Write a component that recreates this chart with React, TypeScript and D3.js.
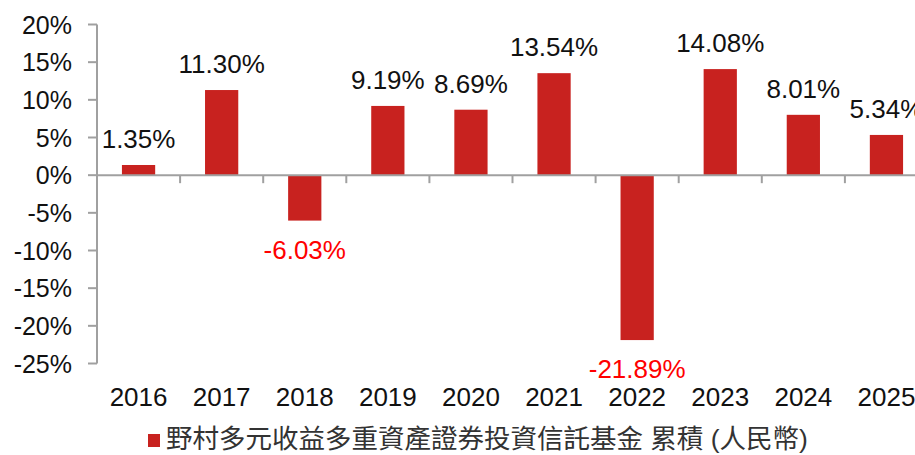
import React from "react";
import * as d3 from "d3";

const categories = ["2016", "2017", "2018", "2019", "2020", "2021", "2022", "2023", "2024", "2025"];
const values = [1.35, 11.3, -6.03, 9.19, 8.69, 13.54, -21.89, 14.08, 8.01, 5.34];
const yTicks = [20, 15, 10, 5, 0, -5, -10, -15, -20, -25];
const legendLabel = "野村多元收益多重資產證券投資信託基金 累積 (人民幣)";

const W = 915;
const H = 455;
const FONT = "'Liberation Sans', Arial, 'Noto Sans CJK TC', sans-serif";
const BAR = "#C8221F";
const AXIS = "#A0A0A0";

export default function App() {
  const x = d3.scaleBand<string>().domain(categories).range([97, 928]).paddingInner(0.6).paddingOuter(0.3);
  const step = x.step();
  const y = d3.scaleLinear().domain([-25, 20]).range([363.5, 24.5]);
  const y0 = y(0);

  return (
    <svg width={W} height={H} style={{ position: "absolute", left: 0, top: 0, fontFamily: FONT }}>
      <rect x={0} y={0} width={W} height={H} fill="#fff" />
      {/* y axis */}
      <line x1={97} x2={97} y1={y(20)} y2={y(-25)} stroke={AXIS} strokeWidth={2} />
      {yTicks.map((t) => (
        <g key={t}>
          <line x1={88} x2={97} y1={y(t)} y2={y(t)} stroke={AXIS} strokeWidth={2} />
          <text x={72} y={y(t)} dy="0.36em" textAnchor="end" fontSize={25} fill="#111">
            {t}%
          </text>
        </g>
      ))}
      {/* bars */}
      {categories.map((c, i) => {
        const v = values[i];
        const top = v >= 0 ? y(v) : y0;
        const h = Math.abs(y(v) - y0);
        return (
          <rect key={c} x={x(c)} y={top} width={x.bandwidth()} height={h} fill={BAR} />
        );
      })}
      {/* x axis */}
      <line x1={97} x2={W} y1={y0} y2={y0} stroke={AXIS} strokeWidth={2} />
      {categories.map((c, i) => (
        <line key={c} x1={97 + step * (i + 1)} x2={97 + step * (i + 1)} y1={y0} y2={y0 + 8} stroke={AXIS} strokeWidth={2} />
      ))}
      {/* data labels */}
      {categories.map((c, i) => {
        const v = values[i];
        const cx = (x(c) as number) + x.bandwidth() / 2;
        const ly = v >= 0 ? y(v) - 17 : y(v) + 38;
        return (
          <text key={c} x={cx} y={ly} textAnchor="middle" fontSize={26} fill={v >= 0 ? "#111" : "#FF0000"}>
            {v.toFixed(2)}%
          </text>
        );
      })}
      {/* category labels */}
      {categories.map((c) => (
        <text key={c} x={(x(c) as number) + x.bandwidth() / 2} y={406} textAnchor="middle" fontSize={26} fill="#111">
          {c}
        </text>
      ))}
      {/* legend */}
      <rect x={148} y={434} width={12} height={13} fill={BAR} />
      <text x={166} y={448} fontSize={26.5} fill="#333">
        {legendLabel}
      </text>
    </svg>
  );
}
